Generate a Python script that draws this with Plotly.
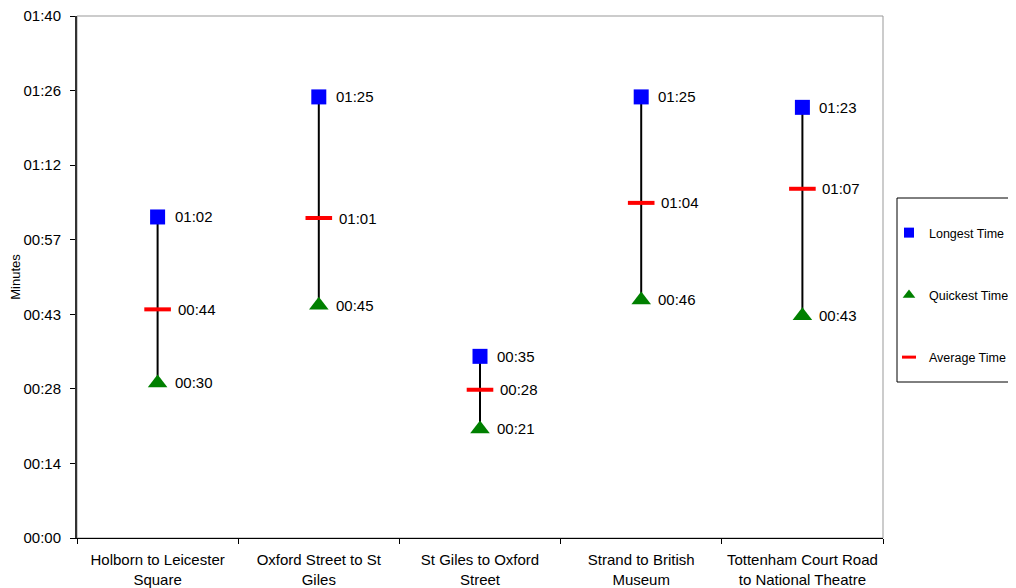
import math
import plotly.graph_objects as go

# ---- data (seconds) ----
categories = ["Holborn to Leicester Square", "Oxford Street to St Giles",
              "St Giles to Oxford Street", "Strand to British Museum",
              "Tottenham Court Road to National Theatre"]
category_labels = ["Holborn to Leicester<br>Square", "Oxford Street to St<br>Giles",
                   "St Giles to Oxford<br>Street", "Strand to British<br>Museum",
                   "Tottenham Court Road<br>to National Theatre"]
longest = [61.5, 84.5, 34.8, 84.5, 82.5]
quickest = [29.7, 44.6, 20.9, 45.6, 42.6]
average = [43.8, 61.3, 28.4, 64.2, 66.9]

y_max = 100
y_tick_values = [i * y_max / 7 for i in range(8)]
y_tick_labels = ["00:00", "00:14", "00:28", "00:43", "00:57", "01:12", "01:26", "01:40"]


def fmt(v):
    s = int(math.floor(v + 0.5))
    return f"{s // 60:02d}:{s % 60:02d}"


FONT = "Liberation Sans, Arial, sans-serif"
# page has an 8px body margin: work in reference coords minus 8
OFF = 8
W, H = 1016 - OFF, 588 - OFF
L, R, T, B = 77 - OFF, 883 - OFF, 16 - OFF, 538 - OFF


def px_x(p):
    return (p - OFF - L) / (R - L)


def px_y(p):
    return (B - (p - OFF)) / (B - T)


fig = go.Figure()

# high-low lines
lx, ly = [], []
for c, hi, lo in zip(categories, longest, quickest):
    lx += [c, c, None]
    ly += [hi, lo, None]
fig.add_trace(go.Scatter(x=lx, y=ly, mode="lines", line=dict(color="black", width=2),
                         showlegend=False, hoverinfo="skip"))

fig.add_trace(go.Scatter(x=categories, y=longest, mode="markers",
                         marker=dict(symbol="square", size=15, color="#0000FF"),
                         showlegend=False, cliponaxis=False))
fig.add_trace(go.Scatter(x=categories, y=quickest, mode="markers",
                         marker=dict(symbol="triangle-up", size=17, color="#008000"),
                         showlegend=False, cliponaxis=False))
fig.add_trace(go.Scatter(x=categories, y=average, mode="markers",
                         marker=dict(symbol="line-ew", size=19,
                                     line=dict(color="#FF0000", width=4)),
                         showlegend=False, cliponaxis=False))

# data labels
annotations = []
for series, shift in ((longest, 15), (quickest, 15), (average, 18)):
    for c, v in zip(categories, series):
        annotations.append(dict(x=c, y=v, xref="x", yref="y", text=fmt(v),
                                showarrow=False, xanchor="left", yanchor="middle",
                                xshift=shift,
                                font=dict(family=FONT, size=15, color="black")))

# legend entries
fig.add_trace(go.Scatter(x=[None], y=[None], mode="markers", name="Longest Time",
                         legendgroup="a",
                         marker=dict(symbol="square", size=10, color="#0000FF")))
fig.add_trace(go.Scatter(x=[None], y=[None], mode="markers", name="Quickest Time",
                         legendgroup="b",
                         marker=dict(symbol="triangle-up", size=11, color="#008000")))
fig.add_trace(go.Scatter(x=[None], y=[None], mode="markers", name="Average Time",
                         legendgroup="c",
                         marker=dict(symbol="line-ew", size=10,
                                     line=dict(color="#FF0000", width=3))))

fig.update_layout(
    width=W, height=H,
    margin=dict(l=L, r=W - R, t=T, b=H - B, autoexpand=False),
    plot_bgcolor="white", paper_bgcolor="white",
    font=dict(family=FONT, size=15, color="black"),
    annotations=annotations,
    legend=dict(x=px_x(889), y=px_y(218), xanchor="left", yanchor="top",
                bgcolor="rgba(0,0,0,0)", borderwidth=0, tracegroupgap=43,
                traceorder="grouped", font=dict(family=FONT, size=12.5, color="black")),
    shapes=[
        dict(type="rect", xref="paper", yref="paper", x0=0, x1=1, y0=0, y1=1,
             line=dict(color="#999999", width=1), layer="below"),
        dict(type="rect", xref="paper", yref="paper",
             x0=px_x(897), x1=px_x(1012), y0=px_y(382), y1=px_y(198),
             line=dict(color="black", width=1), fillcolor="rgba(0,0,0,0)"),
    ],
)

fig.update_xaxes(type="category", categoryorder="array", categoryarray=categories,
                 range=[-0.5, len(categories) - 0.5],
                 tickvals=categories, ticktext=category_labels,
                 tickson="boundaries", ticks="outside", ticklen=5, tickcolor="black",
                 showline=True, linecolor="black", linewidth=1, showgrid=False,
                 zeroline=False, tickfont=dict(family=FONT, size=15, color="black"),
                 ticklabelstandoff=8, ticklabeloverflow="allow", automargin=False)
fig.update_yaxes(range=[0, y_max], tickvals=y_tick_values, ticktext=y_tick_labels,
                 ticks="outside", ticklen=5, tickcolor="black",
                 showline=True, linecolor="#333333", linewidth=2, showgrid=False,
                 zeroline=False, tickfont=dict(family=FONT, size=15, color="black"),
                 ticklabelstandoff=6, ticklabeloverflow="allow",
                 title=dict(text="Minutes", font=dict(family=FONT, size=13, color="black"),
                            standoff=0),
                 automargin=False)

fig.write_html("out.html")
